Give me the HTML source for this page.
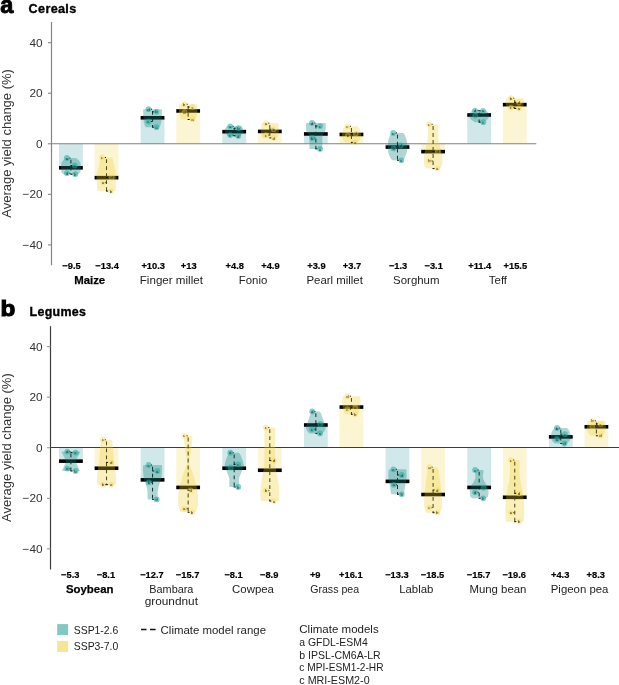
<!DOCTYPE html><html><head><meta charset="utf-8"><style>html,body{margin:0;padding:0;background:#fff;}svg{display:block;will-change:transform;}text{font-family:"Liberation Sans",sans-serif;}</style></head><body>
<svg width="619" height="685" viewBox="0 0 619 685">
<text x="0.2" y="13.1" font-size="23.5" font-weight="bold" fill="#000" stroke="#000" stroke-width="0.9">a</text>
<text x="28.6" y="13.2" font-size="12.6" font-weight="bold" fill="#000" stroke="#000" stroke-width="0.35" letter-spacing="0.35">Cereals</text>
<text transform="translate(0.4,315.6) scale(1.06,1)" font-size="22.9" font-weight="bold" fill="#000" stroke="#000" stroke-width="1.1">b</text>
<text x="29.6" y="315.9" font-size="12.4" font-weight="bold" fill="#000" stroke="#000" stroke-width="0.35" letter-spacing="0.3">Legumes</text>
<line x1="51.5" y1="22.0" x2="51.5" y2="265.3" stroke="#858585" stroke-width="1.2"/>
<line x1="47.9" y1="42.68" x2="51.5" y2="42.68" stroke="#888" stroke-width="1.1"/>
<text x="42.6" y="46.78" font-size="11.8" fill="#333" text-anchor="end">40</text>
<line x1="47.9" y1="93.24" x2="51.5" y2="93.24" stroke="#888" stroke-width="1.1"/>
<text x="42.6" y="97.34" font-size="11.8" fill="#333" text-anchor="end">20</text>
<line x1="47.9" y1="143.80" x2="51.5" y2="143.80" stroke="#888" stroke-width="1.1"/>
<text x="42.6" y="147.90" font-size="11.8" fill="#333" text-anchor="end">0</text>
<line x1="47.9" y1="194.36" x2="51.5" y2="194.36" stroke="#888" stroke-width="1.1"/>
<text x="42.6" y="198.46" font-size="11.8" fill="#333" text-anchor="end">−20</text>
<line x1="47.9" y1="244.92" x2="51.5" y2="244.92" stroke="#888" stroke-width="1.1"/>
<text x="42.6" y="249.02" font-size="11.8" fill="#333" text-anchor="end">−40</text>
<text transform="translate(11.2,143.4) rotate(-90)" font-size="13" fill="#333" text-anchor="middle">Average yield change (%)</text>
<line x1="50.5" y1="326.2" x2="50.5" y2="569.5" stroke="#3c3c3c" stroke-width="1.2"/>
<line x1="46.9" y1="346.63" x2="50.5" y2="346.63" stroke="#999" stroke-width="1.1"/>
<text x="42.6" y="350.73" font-size="11.8" fill="#333" text-anchor="end">40</text>
<line x1="46.9" y1="397.19" x2="50.5" y2="397.19" stroke="#999" stroke-width="1.1"/>
<text x="42.6" y="401.29" font-size="11.8" fill="#333" text-anchor="end">20</text>
<line x1="46.9" y1="447.75" x2="50.5" y2="447.75" stroke="#999" stroke-width="1.1"/>
<text x="42.6" y="451.85" font-size="11.8" fill="#333" text-anchor="end">0</text>
<line x1="46.9" y1="498.31" x2="50.5" y2="498.31" stroke="#999" stroke-width="1.1"/>
<text x="42.6" y="502.41" font-size="11.8" fill="#333" text-anchor="end">−20</text>
<line x1="46.9" y1="548.87" x2="50.5" y2="548.87" stroke="#999" stroke-width="1.1"/>
<text x="42.6" y="552.97" font-size="11.8" fill="#333" text-anchor="end">−40</text>
<text transform="translate(11.2,447.6) rotate(-90)" font-size="13" fill="#333" text-anchor="middle">Average yield change (%)</text>
<rect x="59.00" y="143.80" width="23.8" height="24.02" fill="#d0e8e9"/>
<rect x="94.60" y="143.80" width="23.8" height="33.88" fill="#fcf5d4"/>
<rect x="140.65" y="117.76" width="23.8" height="26.04" fill="#d0e8e9"/>
<rect x="176.25" y="110.94" width="23.8" height="32.86" fill="#fcf5d4"/>
<rect x="222.30" y="131.67" width="23.8" height="12.13" fill="#d0e8e9"/>
<rect x="257.90" y="131.41" width="23.8" height="12.39" fill="#fcf5d4"/>
<rect x="303.95" y="133.94" width="23.8" height="9.86" fill="#d0e8e9"/>
<rect x="339.55" y="134.45" width="23.8" height="9.35" fill="#fcf5d4"/>
<rect x="385.60" y="143.80" width="23.8" height="3.29" fill="#d0e8e9"/>
<rect x="421.20" y="143.80" width="23.8" height="7.84" fill="#fcf5d4"/>
<rect x="467.25" y="114.98" width="23.8" height="28.82" fill="#d0e8e9"/>
<rect x="502.85" y="104.62" width="23.8" height="39.18" fill="#fcf5d4"/>
<rect x="59.00" y="447.75" width="23.8" height="13.40" fill="#d0e8e9"/>
<rect x="94.60" y="447.75" width="23.8" height="20.48" fill="#fcf5d4"/>
<rect x="140.65" y="447.75" width="23.8" height="32.11" fill="#d0e8e9"/>
<rect x="176.25" y="447.75" width="23.8" height="39.69" fill="#fcf5d4"/>
<rect x="222.30" y="447.75" width="23.8" height="20.48" fill="#d0e8e9"/>
<rect x="257.90" y="447.75" width="23.8" height="22.50" fill="#fcf5d4"/>
<rect x="303.95" y="425.00" width="23.8" height="22.75" fill="#d0e8e9"/>
<rect x="339.55" y="407.05" width="23.8" height="40.70" fill="#fcf5d4"/>
<rect x="385.60" y="447.75" width="23.8" height="33.62" fill="#d0e8e9"/>
<rect x="421.20" y="447.75" width="23.8" height="46.77" fill="#fcf5d4"/>
<rect x="467.25" y="447.75" width="23.8" height="39.69" fill="#d0e8e9"/>
<rect x="502.85" y="447.75" width="23.8" height="49.55" fill="#fcf5d4"/>
<rect x="548.90" y="436.88" width="23.8" height="10.87" fill="#d0e8e9"/>
<rect x="584.50" y="426.77" width="23.8" height="20.98" fill="#fcf5d4"/>
<line x1="51.5" y1="143.75" x2="536.3" y2="143.75" stroke="#808080" stroke-width="1.2"/>
<line x1="50.5" y1="447.5" x2="619" y2="447.5" stroke="#3c3c3c" stroke-width="1.1"/>
<rect x="59.00" y="166.02" width="23.8" height="3.6" fill="#000"/>
<line x1="70.90" y1="159.80" x2="70.90" y2="174.20" stroke="#111" stroke-width="1.05" stroke-dasharray="3.8,3.2"/>
<path d="M66.10,158.00 L75.70,158.00 Q76.90,158.00 76.90,159.20 L78.20,159.62 L78.88,160.43 L79.50,161.24 L80.03,162.05 L80.40,162.86 L80.60,164.48 L80.66,166.10 L80.62,167.72 L80.53,169.34 L80.40,170.96 L80.30,172.58 L80.20,172.85 L79.40,173.00 Q79.40,174.20 78.20,174.20 L63.60,174.20 Q62.40,174.20 62.40,173.00 L61.60,172.85 L61.50,172.58 L61.40,170.96 L61.27,169.34 L61.18,167.72 L61.14,166.10 L61.20,164.48 L61.40,162.86 L61.78,162.05 L62.30,161.24 L62.93,160.43 L63.60,159.62 L64.90,159.20 Q64.90,158.00 66.10,158.00 Z" fill="rgba(20,135,130,0.34)"/>
<line x1="70.40" y1="158.00" x2="69.30" y2="158.00" stroke="#111" stroke-width="1"/>
<line x1="70.40" y1="165.50" x2="72.50" y2="165.50" stroke="#111" stroke-width="1"/>
<line x1="70.40" y1="173.20" x2="69.30" y2="173.20" stroke="#111" stroke-width="1"/>
<line x1="70.40" y1="174.20" x2="72.50" y2="174.20" stroke="#111" stroke-width="1"/>
<circle cx="66.90" cy="158.00" r="2.9" fill="rgba(30,170,160,0.55)"/>
<text x="66.90" y="159.60" font-size="4.4" fill="#2a2a2a" text-anchor="middle">a</text>
<circle cx="74.70" cy="165.50" r="2.9" fill="rgba(30,170,160,0.55)"/>
<text x="74.70" y="167.10" font-size="4.4" fill="#2a2a2a" text-anchor="middle">c</text>
<circle cx="66.90" cy="173.20" r="2.9" fill="rgba(30,170,160,0.55)"/>
<text x="66.90" y="174.80" font-size="4.4" fill="#2a2a2a" text-anchor="middle">d</text>
<circle cx="75.20" cy="174.20" r="2.9" fill="rgba(30,170,160,0.55)"/>
<text x="75.20" y="175.80" font-size="4.4" fill="#2a2a2a" text-anchor="middle">b</text>
<rect x="94.60" y="175.88" width="23.8" height="3.6" fill="#000"/>
<line x1="106.50" y1="159.30" x2="106.50" y2="191.10" stroke="#111" stroke-width="1.05" stroke-dasharray="3.8,3.2"/>
<path d="M101.70,157.50 L111.30,157.50 Q112.50,157.50 112.50,158.70 L112.74,158.90 L112.97,160.30 L113.20,161.70 L113.44,163.10 L113.70,164.50 L114.00,165.90 L114.36,167.30 L114.79,168.70 L115.24,170.10 L115.67,171.50 L116.04,172.90 L116.30,174.30 L116.44,175.70 L116.50,177.10 L116.49,178.50 L116.44,179.90 L116.37,181.30 L116.30,182.70 L116.21,184.10 L116.09,185.50 L115.95,186.90 L115.80,188.30 L115.64,189.70 L115.50,189.90 Q115.50,191.10 114.30,191.10 L98.70,191.10 Q97.50,191.10 97.50,189.90 L97.36,189.70 L97.20,188.30 L97.05,186.90 L96.91,185.50 L96.79,184.10 L96.70,182.70 L96.63,181.30 L96.56,179.90 L96.51,178.50 L96.50,177.10 L96.56,175.70 L96.70,174.30 L96.96,172.90 L97.33,171.50 L97.76,170.10 L98.21,168.70 L98.64,167.30 L99.00,165.90 L99.30,164.50 L99.56,163.10 L99.80,161.70 L100.03,160.30 L100.26,158.90 L100.50,158.70 Q100.50,157.50 101.70,157.50 Z" fill="rgba(240,205,40,0.30)"/>
<line x1="106.00" y1="157.50" x2="104.90" y2="157.50" stroke="#111" stroke-width="1"/>
<line x1="106.00" y1="177.50" x2="108.10" y2="177.50" stroke="#111" stroke-width="1"/>
<line x1="106.00" y1="182.60" x2="104.90" y2="182.60" stroke="#111" stroke-width="1"/>
<line x1="106.00" y1="191.10" x2="108.10" y2="191.10" stroke="#111" stroke-width="1"/>
<circle cx="102.10" cy="157.50" r="2.9" fill="rgba(245,215,70,0.40)"/>
<text x="102.10" y="159.10" font-size="4.4" fill="#2a2a2a" text-anchor="middle">c</text>
<circle cx="111.60" cy="177.50" r="2.9" fill="rgba(245,215,70,0.40)"/>
<text x="111.60" y="179.10" font-size="4.4" fill="#2a2a2a" text-anchor="middle">d</text>
<circle cx="103.10" cy="182.60" r="2.9" fill="rgba(245,215,70,0.40)"/>
<text x="103.10" y="184.20" font-size="4.4" fill="#2a2a2a" text-anchor="middle">a</text>
<circle cx="111.10" cy="191.10" r="2.9" fill="rgba(245,215,70,0.40)"/>
<text x="111.10" y="192.70" font-size="4.4" fill="#2a2a2a" text-anchor="middle">b</text>
<rect x="140.65" y="115.96" width="23.8" height="3.6" fill="#000"/>
<line x1="152.55" y1="111.00" x2="152.55" y2="127.20" stroke="#111" stroke-width="1.05" stroke-dasharray="3.8,3.2"/>
<path d="M144.25,109.20 L160.85,109.20 Q162.05,109.20 162.05,110.40 L161.98,111.00 L161.92,112.80 L161.86,114.60 L161.79,116.40 L161.69,118.20 L161.55,120.00 L161.36,121.20 L161.12,122.40 L160.86,123.60 L160.59,124.80 L160.05,126.00 Q160.05,127.20 158.85,127.20 L146.25,127.20 Q145.05,127.20 145.05,126.00 L144.51,124.80 L144.24,123.60 L143.98,122.40 L143.74,121.20 L143.55,120.00 L143.41,118.20 L143.31,116.40 L143.24,114.60 L143.18,112.80 L143.12,111.00 L143.05,110.40 Q143.05,109.20 144.25,109.20 Z" fill="rgba(20,135,130,0.34)"/>
<line x1="152.05" y1="109.20" x2="150.95" y2="109.20" stroke="#111" stroke-width="1"/>
<line x1="152.05" y1="111.80" x2="154.15" y2="111.80" stroke="#111" stroke-width="1"/>
<line x1="152.05" y1="121.50" x2="150.95" y2="121.50" stroke="#111" stroke-width="1"/>
<line x1="152.05" y1="127.20" x2="154.15" y2="127.20" stroke="#111" stroke-width="1"/>
<circle cx="148.45" cy="109.20" r="2.9" fill="rgba(30,170,160,0.55)"/>
<text x="148.45" y="110.80" font-size="4.4" fill="#2a2a2a" text-anchor="middle">d</text>
<circle cx="156.45" cy="111.80" r="2.9" fill="rgba(30,170,160,0.55)"/>
<text x="156.45" y="113.40" font-size="4.4" fill="#2a2a2a" text-anchor="middle">b</text>
<circle cx="148.45" cy="121.50" r="2.9" fill="rgba(30,170,160,0.55)"/>
<text x="148.45" y="123.10" font-size="4.4" fill="#2a2a2a" text-anchor="middle">c</text>
<circle cx="156.45" cy="127.20" r="2.9" fill="rgba(30,170,160,0.55)"/>
<text x="156.45" y="128.80" font-size="4.4" fill="#2a2a2a" text-anchor="middle">a</text>
<rect x="176.25" y="109.14" width="23.8" height="3.6" fill="#000"/>
<line x1="188.15" y1="106.00" x2="188.15" y2="119.50" stroke="#111" stroke-width="1.05" stroke-dasharray="3.8,3.2"/>
<path d="M179.95,104.20 L196.35,104.20 Q197.55,104.20 197.55,105.40 L197.50,105.73 L197.46,107.26 L197.42,108.79 L197.36,110.32 L197.28,111.85 L197.15,113.38 L196.96,114.40 L196.73,115.42 L196.47,116.44 L196.19,117.46 L195.65,118.30 Q195.65,119.50 194.45,119.50 L181.85,119.50 Q180.65,119.50 180.65,118.30 L180.11,117.46 L179.83,116.44 L179.57,115.42 L179.34,114.40 L179.15,113.38 L179.02,111.85 L178.94,110.32 L178.88,108.79 L178.84,107.26 L178.80,105.73 L178.75,105.40 Q178.75,104.20 179.95,104.20 Z" fill="rgba(240,205,40,0.30)"/>
<line x1="187.65" y1="104.20" x2="186.55" y2="104.20" stroke="#111" stroke-width="1"/>
<line x1="187.65" y1="107.00" x2="189.75" y2="107.00" stroke="#111" stroke-width="1"/>
<line x1="187.65" y1="112.20" x2="186.55" y2="112.20" stroke="#111" stroke-width="1"/>
<line x1="187.65" y1="119.50" x2="189.75" y2="119.50" stroke="#111" stroke-width="1"/>
<circle cx="184.05" cy="104.20" r="2.9" fill="rgba(245,215,70,0.40)"/>
<text x="184.05" y="105.80" font-size="4.4" fill="#2a2a2a" text-anchor="middle">b</text>
<circle cx="192.55" cy="107.00" r="2.9" fill="rgba(245,215,70,0.40)"/>
<text x="192.55" y="108.60" font-size="4.4" fill="#2a2a2a" text-anchor="middle">c</text>
<circle cx="184.55" cy="112.20" r="2.9" fill="rgba(245,215,70,0.40)"/>
<text x="184.55" y="113.80" font-size="4.4" fill="#2a2a2a" text-anchor="middle">d</text>
<circle cx="192.55" cy="119.50" r="2.9" fill="rgba(245,215,70,0.40)"/>
<text x="192.55" y="121.10" font-size="4.4" fill="#2a2a2a" text-anchor="middle">a</text>
<rect x="222.30" y="129.87" width="23.8" height="3.6" fill="#000"/>
<line x1="234.20" y1="128.10" x2="234.20" y2="135.90" stroke="#111" stroke-width="1.05" stroke-dasharray="3.8,3.2"/>
<path d="M227.40,126.30 L241.00,126.30 Q242.20,126.30 242.20,127.50 L242.85,127.90 L243.20,128.70 L243.50,129.50 L243.68,130.30 L243.70,131.10 L243.51,131.90 L243.16,132.70 L242.70,133.50 L242.18,134.30 L241.20,134.70 Q241.20,135.90 240.00,135.90 L228.40,135.90 Q227.20,135.90 227.20,134.70 L226.22,134.30 L225.70,133.50 L225.24,132.70 L224.89,131.90 L224.70,131.10 L224.72,130.30 L224.90,129.50 L225.20,128.70 L225.55,127.90 L226.20,127.50 Q226.20,126.30 227.40,126.30 Z" fill="rgba(20,135,130,0.34)"/>
<line x1="233.70" y1="126.30" x2="232.60" y2="126.30" stroke="#111" stroke-width="1"/>
<line x1="233.70" y1="128.20" x2="235.80" y2="128.20" stroke="#111" stroke-width="1"/>
<line x1="233.70" y1="135.10" x2="232.60" y2="135.10" stroke="#111" stroke-width="1"/>
<line x1="233.70" y1="135.90" x2="235.80" y2="135.90" stroke="#111" stroke-width="1"/>
<circle cx="230.20" cy="126.30" r="2.9" fill="rgba(30,170,160,0.55)"/>
<text x="230.20" y="127.90" font-size="4.4" fill="#2a2a2a" text-anchor="middle">a</text>
<circle cx="238.50" cy="128.20" r="2.9" fill="rgba(30,170,160,0.55)"/>
<text x="238.50" y="129.80" font-size="4.4" fill="#2a2a2a" text-anchor="middle">b</text>
<circle cx="230.20" cy="135.10" r="2.9" fill="rgba(30,170,160,0.55)"/>
<text x="230.20" y="136.70" font-size="4.4" fill="#2a2a2a" text-anchor="middle">c</text>
<circle cx="238.30" cy="135.90" r="2.9" fill="rgba(30,170,160,0.55)"/>
<text x="238.30" y="137.50" font-size="4.4" fill="#2a2a2a" text-anchor="middle">d</text>
<rect x="257.90" y="129.61" width="23.8" height="3.6" fill="#000"/>
<line x1="269.80" y1="125.00" x2="269.80" y2="137.90" stroke="#111" stroke-width="1.05" stroke-dasharray="3.8,3.2"/>
<path d="M262.30,123.20 L277.30,123.20 Q278.50,123.20 278.50,124.40 L278.57,124.43 L278.65,125.65 L278.73,126.88 L278.80,128.10 L278.83,129.33 L278.80,130.55 L278.71,131.78 L278.56,133.00 L278.38,134.23 L278.18,135.45 L277.98,136.68 L277.80,136.70 Q277.80,137.90 276.60,137.90 L263.00,137.90 Q261.80,137.90 261.80,136.70 L261.62,136.68 L261.42,135.45 L261.22,134.23 L261.04,133.00 L260.89,131.78 L260.80,130.55 L260.77,129.33 L260.80,128.10 L260.87,126.88 L260.95,125.65 L261.03,124.43 L261.10,124.40 Q261.10,123.20 262.30,123.20 Z" fill="rgba(240,205,40,0.30)"/>
<line x1="269.30" y1="123.20" x2="268.20" y2="123.20" stroke="#111" stroke-width="1"/>
<line x1="269.30" y1="129.20" x2="271.40" y2="129.20" stroke="#111" stroke-width="1"/>
<line x1="269.30" y1="135.10" x2="268.20" y2="135.10" stroke="#111" stroke-width="1"/>
<line x1="269.30" y1="137.90" x2="271.40" y2="137.90" stroke="#111" stroke-width="1"/>
<circle cx="265.90" cy="123.20" r="2.9" fill="rgba(245,215,70,0.40)"/>
<text x="265.90" y="124.80" font-size="4.4" fill="#2a2a2a" text-anchor="middle">a</text>
<circle cx="273.70" cy="129.20" r="2.9" fill="rgba(245,215,70,0.40)"/>
<text x="273.70" y="130.80" font-size="4.4" fill="#2a2a2a" text-anchor="middle">b</text>
<circle cx="265.90" cy="135.10" r="2.9" fill="rgba(245,215,70,0.40)"/>
<text x="265.90" y="136.70" font-size="4.4" fill="#2a2a2a" text-anchor="middle">c</text>
<circle cx="273.70" cy="137.90" r="2.9" fill="rgba(245,215,70,0.40)"/>
<text x="273.70" y="139.50" font-size="4.4" fill="#2a2a2a" text-anchor="middle">d</text>
<rect x="303.95" y="132.14" width="23.8" height="3.6" fill="#000"/>
<line x1="315.85" y1="124.80" x2="315.85" y2="148.90" stroke="#111" stroke-width="1.05" stroke-dasharray="3.8,3.2"/>
<path d="M307.05,123.00 L324.65,123.00 Q325.85,123.00 325.85,124.20 L325.79,124.30 L325.77,125.59 L325.74,126.89 L325.69,128.18 L325.57,129.48 L325.35,130.77 L324.99,131.63 L324.49,132.50 L323.93,133.36 L323.38,134.22 L322.89,135.09 L322.55,135.95 L322.37,138.11 L322.29,140.27 L322.29,142.43 L322.32,144.58 L322.35,146.74 L322.35,147.70 Q322.35,148.90 321.15,148.90 L310.55,148.90 Q309.35,148.90 309.35,147.70 L309.35,146.74 L309.38,144.58 L309.41,142.43 L309.41,140.27 L309.33,138.11 L309.15,135.95 L308.81,135.09 L308.32,134.22 L307.77,133.36 L307.21,132.50 L306.71,131.63 L306.35,130.77 L306.13,129.48 L306.01,128.18 L305.96,126.89 L305.93,125.59 L305.91,124.30 L305.85,124.20 Q305.85,123.00 307.05,123.00 Z" fill="rgba(20,135,130,0.34)"/>
<line x1="315.35" y1="123.00" x2="314.25" y2="123.00" stroke="#111" stroke-width="1"/>
<line x1="315.35" y1="126.10" x2="317.45" y2="126.10" stroke="#111" stroke-width="1"/>
<line x1="315.35" y1="137.90" x2="314.25" y2="137.90" stroke="#111" stroke-width="1"/>
<line x1="315.35" y1="148.90" x2="317.45" y2="148.90" stroke="#111" stroke-width="1"/>
<circle cx="311.95" cy="123.00" r="2.9" fill="rgba(30,170,160,0.55)"/>
<text x="311.95" y="124.60" font-size="4.4" fill="#2a2a2a" text-anchor="middle">d</text>
<circle cx="320.05" cy="126.10" r="2.9" fill="rgba(30,170,160,0.55)"/>
<text x="320.05" y="127.70" font-size="4.4" fill="#2a2a2a" text-anchor="middle">c</text>
<circle cx="312.25" cy="137.90" r="2.9" fill="rgba(30,170,160,0.55)"/>
<text x="312.25" y="139.50" font-size="4.4" fill="#2a2a2a" text-anchor="middle">b</text>
<circle cx="320.05" cy="148.90" r="2.9" fill="rgba(30,170,160,0.55)"/>
<text x="320.05" y="150.50" font-size="4.4" fill="#2a2a2a" text-anchor="middle">a</text>
<rect x="339.55" y="132.65" width="23.8" height="3.6" fill="#000"/>
<line x1="351.45" y1="128.10" x2="351.45" y2="142.40" stroke="#111" stroke-width="1.05" stroke-dasharray="3.8,3.2"/>
<path d="M345.65,126.30 L357.25,126.30 Q358.45,126.30 358.45,127.50 L359.30,128.18 L359.74,129.12 L360.15,130.06 L360.50,131.00 L360.75,131.94 L360.91,132.87 L361.01,133.81 L361.04,134.75 L361.01,135.69 L360.91,136.63 L360.75,137.57 L360.50,138.38 L360.15,139.18 L359.74,139.99 L359.30,140.79 L358.45,141.20 Q358.45,142.40 357.25,142.40 L345.65,142.40 Q344.45,142.40 344.45,141.20 L343.60,140.79 L343.16,139.99 L342.75,139.18 L342.40,138.38 L342.15,137.57 L341.99,136.63 L341.89,135.69 L341.86,134.75 L341.89,133.81 L341.99,132.87 L342.15,131.94 L342.40,131.00 L342.75,130.06 L343.16,129.12 L343.60,128.18 L344.45,127.50 Q344.45,126.30 345.65,126.30 Z" fill="rgba(240,205,40,0.30)"/>
<line x1="350.95" y1="126.30" x2="349.85" y2="126.30" stroke="#111" stroke-width="1"/>
<line x1="350.95" y1="133.60" x2="353.05" y2="133.60" stroke="#111" stroke-width="1"/>
<line x1="350.95" y1="135.60" x2="349.85" y2="135.60" stroke="#111" stroke-width="1"/>
<line x1="350.95" y1="142.40" x2="353.05" y2="142.40" stroke="#111" stroke-width="1"/>
<circle cx="347.45" cy="126.30" r="2.9" fill="rgba(245,215,70,0.40)"/>
<text x="347.45" y="127.90" font-size="4.4" fill="#2a2a2a" text-anchor="middle">c</text>
<circle cx="355.75" cy="133.60" r="2.9" fill="rgba(245,215,70,0.40)"/>
<text x="355.75" y="135.20" font-size="4.4" fill="#2a2a2a" text-anchor="middle">d</text>
<circle cx="347.95" cy="135.60" r="2.9" fill="rgba(245,215,70,0.40)"/>
<text x="347.95" y="137.20" font-size="4.4" fill="#2a2a2a" text-anchor="middle">b</text>
<circle cx="355.25" cy="142.40" r="2.9" fill="rgba(245,215,70,0.40)"/>
<text x="355.25" y="144.00" font-size="4.4" fill="#2a2a2a" text-anchor="middle">a</text>
<rect x="385.60" y="145.29" width="23.8" height="3.6" fill="#000"/>
<line x1="397.50" y1="134.70" x2="397.50" y2="160.30" stroke="#111" stroke-width="1.05" stroke-dasharray="3.8,3.2"/>
<path d="M392.20,132.90 L402.80,132.90 Q404.00,132.90 404.00,134.10 L404.50,134.27 L405.04,135.64 L405.57,137.01 L406.07,138.38 L406.50,139.75 L406.80,141.12 L407.00,142.95 L407.13,144.77 L407.18,146.60 L407.15,148.43 L407.02,150.25 L406.80,152.08 L406.44,153.45 L405.94,154.82 L405.36,156.19 L404.72,157.56 L404.09,158.93 L403.50,159.10 Q403.50,160.30 402.30,160.30 L392.70,160.30 Q391.50,160.30 391.50,159.10 L390.91,158.93 L390.28,157.56 L389.64,156.19 L389.06,154.82 L388.56,153.45 L388.20,152.08 L387.98,150.25 L387.85,148.43 L387.82,146.60 L387.87,144.77 L388.00,142.95 L388.20,141.12 L388.50,139.75 L388.93,138.38 L389.43,137.01 L389.96,135.64 L390.50,134.27 L391.00,134.10 Q391.00,132.90 392.20,132.90 Z" fill="rgba(20,135,130,0.34)"/>
<line x1="397.00" y1="132.90" x2="395.90" y2="132.90" stroke="#111" stroke-width="1"/>
<line x1="397.00" y1="145.30" x2="399.10" y2="145.30" stroke="#111" stroke-width="1"/>
<line x1="397.00" y1="148.40" x2="395.90" y2="148.40" stroke="#111" stroke-width="1"/>
<line x1="397.00" y1="160.30" x2="399.10" y2="160.30" stroke="#111" stroke-width="1"/>
<circle cx="393.20" cy="132.90" r="2.9" fill="rgba(30,170,160,0.55)"/>
<text x="393.20" y="134.50" font-size="4.4" fill="#2a2a2a" text-anchor="middle">c</text>
<circle cx="401.00" cy="145.30" r="2.9" fill="rgba(30,170,160,0.55)"/>
<text x="401.00" y="146.90" font-size="4.4" fill="#2a2a2a" text-anchor="middle">d</text>
<circle cx="393.70" cy="148.40" r="2.9" fill="rgba(30,170,160,0.55)"/>
<text x="393.70" y="150.00" font-size="4.4" fill="#2a2a2a" text-anchor="middle">b</text>
<circle cx="401.30" cy="160.30" r="2.9" fill="rgba(30,170,160,0.55)"/>
<text x="401.30" y="161.90" font-size="4.4" fill="#2a2a2a" text-anchor="middle">a</text>
<rect x="421.20" y="149.84" width="23.8" height="3.6" fill="#000"/>
<line x1="433.10" y1="126.10" x2="433.10" y2="168.60" stroke="#111" stroke-width="1.05" stroke-dasharray="3.8,3.2"/>
<path d="M429.30,124.30 L436.90,124.30 Q438.10,124.30 438.10,125.50 L438.15,126.88 L438.16,129.47 L438.16,132.05 L438.21,134.64 L438.34,137.22 L438.60,139.81 L439.05,142.39 L439.67,144.97 L440.38,147.56 L441.08,150.14 L441.68,152.73 L442.10,155.31 L442.32,156.79 L442.41,158.26 L442.41,159.74 L442.34,161.22 L442.23,162.69 L442.10,164.17 L441.94,164.91 L441.71,165.65 L441.44,166.38 L441.16,167.12 L440.60,167.40 Q440.60,168.60 439.40,168.60 L426.80,168.60 Q425.60,168.60 425.60,167.40 L425.04,167.12 L424.76,166.38 L424.49,165.65 L424.26,164.91 L424.10,164.17 L423.97,162.69 L423.86,161.22 L423.79,159.74 L423.79,158.26 L423.88,156.79 L424.10,155.31 L424.52,152.73 L425.12,150.14 L425.82,147.56 L426.53,144.97 L427.15,142.39 L427.60,139.81 L427.86,137.22 L427.99,134.64 L428.04,132.05 L428.04,129.47 L428.05,126.88 L428.10,125.50 Q428.10,124.30 429.30,124.30 Z" fill="rgba(240,205,40,0.30)"/>
<line x1="432.60" y1="124.30" x2="431.50" y2="124.30" stroke="#111" stroke-width="1"/>
<line x1="432.60" y1="151.50" x2="434.70" y2="151.50" stroke="#111" stroke-width="1"/>
<line x1="432.60" y1="160.80" x2="431.50" y2="160.80" stroke="#111" stroke-width="1"/>
<line x1="432.60" y1="168.60" x2="434.70" y2="168.60" stroke="#111" stroke-width="1"/>
<circle cx="428.90" cy="124.30" r="2.9" fill="rgba(245,215,70,0.40)"/>
<text x="428.90" y="125.90" font-size="4.4" fill="#2a2a2a" text-anchor="middle">c</text>
<circle cx="437.70" cy="151.50" r="2.9" fill="rgba(245,215,70,0.40)"/>
<text x="437.70" y="153.10" font-size="4.4" fill="#2a2a2a" text-anchor="middle">d</text>
<circle cx="429.40" cy="160.80" r="2.9" fill="rgba(245,215,70,0.40)"/>
<text x="429.40" y="162.40" font-size="4.4" fill="#2a2a2a" text-anchor="middle">b</text>
<circle cx="437.20" cy="168.60" r="2.9" fill="rgba(245,215,70,0.40)"/>
<text x="437.20" y="170.20" font-size="4.4" fill="#2a2a2a" text-anchor="middle">a</text>
<rect x="467.25" y="113.18" width="23.8" height="3.6" fill="#000"/>
<line x1="479.15" y1="112.40" x2="479.15" y2="122.20" stroke="#111" stroke-width="1.05" stroke-dasharray="3.8,3.2"/>
<path d="M472.35,110.60 L485.95,110.60 Q487.15,110.60 487.15,111.80 L487.99,112.34 L488.26,112.92 L488.49,113.50 L488.65,114.08 L488.78,114.66 L488.91,115.24 L488.99,115.82 L489.00,116.40 L488.90,116.98 L488.65,117.56 L488.21,118.33 L487.61,119.11 L486.90,119.88 L486.13,120.65 L484.65,121.00 Q484.65,122.20 483.45,122.20 L474.85,122.20 Q473.65,122.20 473.65,121.00 L472.17,120.65 L471.40,119.88 L470.69,119.11 L470.09,118.33 L469.65,117.56 L469.40,116.98 L469.30,116.40 L469.31,115.82 L469.39,115.24 L469.52,114.66 L469.65,114.08 L469.81,113.50 L470.04,112.92 L470.31,112.34 L471.15,111.80 Q471.15,110.60 472.35,110.60 Z" fill="rgba(20,135,130,0.34)"/>
<line x1="478.65" y1="110.60" x2="477.55" y2="110.60" stroke="#111" stroke-width="1"/>
<line x1="478.65" y1="110.80" x2="480.75" y2="110.80" stroke="#111" stroke-width="1"/>
<line x1="478.65" y1="115.60" x2="477.55" y2="115.60" stroke="#111" stroke-width="1"/>
<line x1="478.65" y1="122.20" x2="480.75" y2="122.20" stroke="#111" stroke-width="1"/>
<circle cx="475.00" cy="110.60" r="2.9" fill="rgba(30,170,160,0.55)"/>
<text x="475.00" y="112.20" font-size="4.4" fill="#2a2a2a" text-anchor="middle">d</text>
<circle cx="483.00" cy="110.80" r="2.9" fill="rgba(30,170,160,0.55)"/>
<text x="483.00" y="112.40" font-size="4.4" fill="#2a2a2a" text-anchor="middle">a</text>
<circle cx="475.40" cy="115.60" r="2.9" fill="rgba(30,170,160,0.55)"/>
<text x="475.40" y="117.20" font-size="4.4" fill="#2a2a2a" text-anchor="middle">b</text>
<circle cx="483.30" cy="122.20" r="2.9" fill="rgba(30,170,160,0.55)"/>
<text x="483.30" y="123.80" font-size="4.4" fill="#2a2a2a" text-anchor="middle">c</text>
<rect x="502.85" y="102.82" width="23.8" height="3.6" fill="#000"/>
<line x1="514.75" y1="100.00" x2="514.75" y2="108.50" stroke="#111" stroke-width="1.05" stroke-dasharray="3.8,3.2"/>
<path d="M506.95,98.20 L522.55,98.20 Q523.75,98.20 523.75,99.40 L523.82,100.26 L523.88,101.29 L523.90,102.32 L523.87,103.35 L523.75,104.38 L523.53,105.07 L523.23,105.75 L522.88,106.44 L522.49,107.13 L521.75,107.30 Q521.75,108.50 520.55,108.50 L508.95,108.50 Q507.75,108.50 507.75,107.30 L507.01,107.13 L506.62,106.44 L506.27,105.75 L505.97,105.07 L505.75,104.38 L505.63,103.35 L505.60,102.32 L505.62,101.29 L505.68,100.26 L505.75,99.40 Q505.75,98.20 506.95,98.20 Z" fill="rgba(240,205,40,0.30)"/>
<line x1="514.25" y1="98.20" x2="513.15" y2="98.20" stroke="#111" stroke-width="1"/>
<line x1="514.25" y1="102.30" x2="516.35" y2="102.30" stroke="#111" stroke-width="1"/>
<line x1="514.25" y1="107.70" x2="513.15" y2="107.70" stroke="#111" stroke-width="1"/>
<line x1="514.25" y1="108.50" x2="516.35" y2="108.50" stroke="#111" stroke-width="1"/>
<circle cx="510.90" cy="98.20" r="2.9" fill="rgba(245,215,70,0.40)"/>
<text x="510.90" y="99.80" font-size="4.4" fill="#2a2a2a" text-anchor="middle">b</text>
<circle cx="518.90" cy="102.30" r="2.9" fill="rgba(245,215,70,0.40)"/>
<text x="518.90" y="103.90" font-size="4.4" fill="#2a2a2a" text-anchor="middle">d</text>
<circle cx="510.90" cy="107.70" r="2.9" fill="rgba(245,215,70,0.40)"/>
<text x="510.90" y="109.30" font-size="4.4" fill="#2a2a2a" text-anchor="middle">c</text>
<circle cx="518.90" cy="108.50" r="2.9" fill="rgba(245,215,70,0.40)"/>
<text x="518.90" y="110.10" font-size="4.4" fill="#2a2a2a" text-anchor="middle">a</text>
<rect x="59.00" y="459.35" width="23.8" height="3.6" fill="#000"/>
<line x1="70.90" y1="453.40" x2="70.90" y2="471.00" stroke="#111" stroke-width="1.05" stroke-dasharray="3.8,3.2"/>
<path d="M62.60,451.60 L79.20,451.60 Q80.40,451.60 80.40,452.80 L79.69,453.06 L78.92,454.51 L78.15,455.97 L77.44,457.42 L76.84,458.88 L76.40,460.33 L76.13,460.65 L75.97,460.98 L75.93,461.30 L75.99,461.62 L76.15,461.95 L76.40,462.27 L76.78,463.72 L77.31,465.18 L77.93,466.63 L78.60,468.09 L79.28,469.55 L79.90,469.80 Q79.90,471.00 78.70,471.00 L63.10,471.00 Q61.90,471.00 61.90,469.80 L62.52,469.55 L63.20,468.09 L63.87,466.63 L64.49,465.18 L65.02,463.72 L65.40,462.27 L65.65,461.95 L65.81,461.62 L65.87,461.30 L65.83,460.98 L65.67,460.65 L65.40,460.33 L64.96,458.88 L64.36,457.42 L63.65,455.97 L62.88,454.51 L62.11,453.06 L61.40,452.80 Q61.40,451.60 62.60,451.60 Z" fill="rgba(20,135,130,0.34)"/>
<line x1="70.40" y1="451.60" x2="69.30" y2="451.60" stroke="#111" stroke-width="1"/>
<line x1="70.40" y1="452.60" x2="72.50" y2="452.60" stroke="#111" stroke-width="1"/>
<line x1="70.40" y1="468.60" x2="69.30" y2="468.60" stroke="#111" stroke-width="1"/>
<line x1="70.40" y1="471.00" x2="72.50" y2="471.00" stroke="#111" stroke-width="1"/>
<circle cx="67.30" cy="451.60" r="2.9" fill="rgba(30,170,160,0.55)"/>
<text x="67.30" y="453.20" font-size="4.4" fill="#2a2a2a" text-anchor="middle">d</text>
<circle cx="75.60" cy="452.60" r="2.9" fill="rgba(30,170,160,0.55)"/>
<text x="75.60" y="454.20" font-size="4.4" fill="#2a2a2a" text-anchor="middle">c</text>
<circle cx="67.30" cy="468.60" r="2.9" fill="rgba(30,170,160,0.55)"/>
<text x="67.30" y="470.20" font-size="4.4" fill="#2a2a2a" text-anchor="middle">a</text>
<circle cx="75.60" cy="471.00" r="2.9" fill="rgba(30,170,160,0.55)"/>
<text x="75.60" y="472.60" font-size="4.4" fill="#2a2a2a" text-anchor="middle">b</text>
<rect x="94.60" y="466.43" width="23.8" height="3.6" fill="#000"/>
<line x1="106.50" y1="441.50" x2="106.50" y2="484.70" stroke="#111" stroke-width="1.05" stroke-dasharray="3.8,3.2"/>
<path d="M102.00,439.70 L111.00,439.70 Q112.20,439.70 112.20,440.90 L112.50,443.45 L112.79,447.20 L113.09,450.95 L113.39,454.70 L113.69,458.45 L114.00,462.20 L114.35,464.82 L114.73,467.45 L115.12,470.07 L115.49,472.70 L115.79,475.32 L116.00,477.95 L116.09,479.07 L116.10,480.20 L116.04,481.32 L115.95,482.45 L115.80,483.50 Q115.80,484.70 114.60,484.70 L98.40,484.70 Q97.20,484.70 97.20,483.50 L97.05,482.45 L96.96,481.32 L96.90,480.20 L96.91,479.07 L97.00,477.95 L97.21,475.32 L97.51,472.70 L97.88,470.07 L98.27,467.45 L98.65,464.82 L99.00,462.20 L99.31,458.45 L99.61,454.70 L99.91,450.95 L100.21,447.20 L100.50,443.45 L100.80,440.90 Q100.80,439.70 102.00,439.70 Z" fill="rgba(240,205,40,0.30)"/>
<line x1="106.00" y1="439.70" x2="104.90" y2="439.70" stroke="#111" stroke-width="1"/>
<line x1="106.00" y1="462.40" x2="108.10" y2="462.40" stroke="#111" stroke-width="1"/>
<line x1="106.00" y1="484.70" x2="104.90" y2="484.70" stroke="#111" stroke-width="1"/>
<line x1="106.00" y1="484.70" x2="108.10" y2="484.70" stroke="#111" stroke-width="1"/>
<circle cx="103.00" cy="439.70" r="2.9" fill="rgba(245,215,70,0.40)"/>
<text x="103.00" y="441.30" font-size="4.4" fill="#2a2a2a" text-anchor="middle">c</text>
<circle cx="111.30" cy="462.40" r="2.9" fill="rgba(245,215,70,0.40)"/>
<text x="111.30" y="464.00" font-size="4.4" fill="#2a2a2a" text-anchor="middle">d</text>
<circle cx="103.00" cy="484.70" r="2.9" fill="rgba(245,215,70,0.40)"/>
<text x="103.00" y="486.30" font-size="4.4" fill="#2a2a2a" text-anchor="middle">b</text>
<circle cx="111.30" cy="484.70" r="2.9" fill="rgba(245,215,70,0.40)"/>
<text x="111.30" y="486.30" font-size="4.4" fill="#2a2a2a" text-anchor="middle">a</text>
<rect x="140.65" y="478.06" width="23.8" height="3.6" fill="#000"/>
<line x1="152.55" y1="466.80" x2="152.55" y2="499.40" stroke="#111" stroke-width="1.05" stroke-dasharray="3.8,3.2"/>
<path d="M144.15,465.00 L160.95,465.00 Q162.15,465.00 162.15,466.20 L162.08,467.01 L162.06,469.01 L162.03,471.02 L161.96,473.03 L161.82,475.03 L161.55,477.04 L161.10,479.05 L160.49,481.05 L159.79,483.06 L159.10,485.07 L158.49,487.07 L158.05,489.08 L157.79,490.80 L157.66,492.52 L157.61,494.24 L157.61,495.96 L157.60,497.68 L157.55,498.20 Q157.55,499.40 156.35,499.40 L148.75,499.40 Q147.55,499.40 147.55,498.20 L147.50,497.68 L147.49,495.96 L147.49,494.24 L147.44,492.52 L147.31,490.80 L147.05,489.08 L146.61,487.07 L146.00,485.07 L145.31,483.06 L144.61,481.05 L144.00,479.05 L143.55,477.04 L143.28,475.03 L143.14,473.03 L143.07,471.02 L143.04,469.01 L143.02,467.01 L142.95,466.20 Q142.95,465.00 144.15,465.00 Z" fill="rgba(20,135,130,0.34)"/>
<line x1="152.05" y1="465.00" x2="150.95" y2="465.00" stroke="#111" stroke-width="1"/>
<line x1="152.05" y1="470.90" x2="154.15" y2="470.90" stroke="#111" stroke-width="1"/>
<line x1="152.05" y1="482.40" x2="150.95" y2="482.40" stroke="#111" stroke-width="1"/>
<line x1="152.05" y1="499.40" x2="154.15" y2="499.40" stroke="#111" stroke-width="1"/>
<circle cx="148.60" cy="465.00" r="2.9" fill="rgba(30,170,160,0.55)"/>
<text x="148.60" y="466.60" font-size="4.4" fill="#2a2a2a" text-anchor="middle">c</text>
<circle cx="157.30" cy="470.90" r="2.9" fill="rgba(30,170,160,0.55)"/>
<text x="157.30" y="472.50" font-size="4.4" fill="#2a2a2a" text-anchor="middle">a</text>
<circle cx="148.90" cy="482.40" r="2.9" fill="rgba(30,170,160,0.55)"/>
<text x="148.90" y="484.00" font-size="4.4" fill="#2a2a2a" text-anchor="middle">b</text>
<circle cx="156.60" cy="499.40" r="2.9" fill="rgba(30,170,160,0.55)"/>
<text x="156.60" y="501.00" font-size="4.4" fill="#2a2a2a" text-anchor="middle">d</text>
<rect x="176.25" y="485.64" width="23.8" height="3.6" fill="#000"/>
<line x1="188.15" y1="437.60" x2="188.15" y2="512.30" stroke="#111" stroke-width="1.05" stroke-dasharray="3.8,3.2"/>
<path d="M184.85,435.80 L191.45,435.80 Q192.65,435.80 192.65,437.00 L192.40,438.35 L192.16,440.90 L191.92,443.45 L191.67,446.00 L191.42,448.55 L191.15,451.10 L190.80,453.01 L190.36,454.93 L189.92,456.84 L189.55,458.75 L189.33,460.66 L189.35,462.57 L189.66,464.49 L190.19,466.40 L190.89,468.31 L191.66,470.22 L192.44,472.14 L193.15,474.05 L193.84,476.60 L194.58,479.15 L195.33,481.70 L196.03,484.25 L196.65,486.80 L197.15,489.35 L197.53,491.64 L197.82,493.94 L198.03,496.23 L198.15,498.53 L198.19,500.82 L198.15,503.12 L197.99,504.65 L197.71,506.18 L197.34,507.71 L196.93,509.24 L196.52,510.77 L196.15,511.10 Q196.15,512.30 194.95,512.30 L181.35,512.30 Q180.15,512.30 180.15,511.10 L179.78,510.77 L179.37,509.24 L178.96,507.71 L178.59,506.18 L178.31,504.65 L178.15,503.12 L178.11,500.82 L178.15,498.53 L178.28,496.23 L178.48,493.94 L178.78,491.64 L179.15,489.35 L179.65,486.80 L180.27,484.25 L180.97,481.70 L181.72,479.15 L182.46,476.60 L183.15,474.05 L183.86,472.14 L184.64,470.22 L185.41,468.31 L186.11,466.40 L186.64,464.49 L186.95,462.57 L186.97,460.66 L186.75,458.75 L186.38,456.84 L185.94,454.93 L185.50,453.01 L185.15,451.10 L184.88,448.55 L184.63,446.00 L184.38,443.45 L184.14,440.90 L183.90,438.35 L183.65,437.00 Q183.65,435.80 184.85,435.80 Z" fill="rgba(240,205,40,0.30)"/>
<line x1="187.65" y1="435.80" x2="186.55" y2="435.80" stroke="#111" stroke-width="1"/>
<line x1="187.65" y1="490.40" x2="189.75" y2="490.40" stroke="#111" stroke-width="1"/>
<line x1="187.65" y1="508.70" x2="186.55" y2="508.70" stroke="#111" stroke-width="1"/>
<line x1="187.65" y1="512.30" x2="189.75" y2="512.30" stroke="#111" stroke-width="1"/>
<circle cx="184.20" cy="435.80" r="2.9" fill="rgba(245,215,70,0.40)"/>
<text x="184.20" y="437.40" font-size="4.4" fill="#2a2a2a" text-anchor="middle">c</text>
<circle cx="190.70" cy="490.40" r="2.9" fill="rgba(245,215,70,0.40)"/>
<text x="190.70" y="492.00" font-size="4.4" fill="#2a2a2a" text-anchor="middle">d</text>
<circle cx="184.20" cy="508.70" r="2.9" fill="rgba(245,215,70,0.40)"/>
<text x="184.20" y="510.30" font-size="4.4" fill="#2a2a2a" text-anchor="middle">a</text>
<circle cx="192.00" cy="512.30" r="2.9" fill="rgba(245,215,70,0.40)"/>
<text x="192.00" y="513.90" font-size="4.4" fill="#2a2a2a" text-anchor="middle">b</text>
<rect x="222.30" y="466.43" width="23.8" height="3.6" fill="#000"/>
<line x1="234.20" y1="454.50" x2="234.20" y2="487.00" stroke="#111" stroke-width="1.05" stroke-dasharray="3.8,3.2"/>
<path d="M229.90,452.70 L238.50,452.70 Q239.70,452.70 239.70,453.90 L240.43,454.70 L241.24,456.70 L242.04,458.70 L242.77,460.70 L243.35,462.70 L243.70,464.70 L243.79,465.56 L243.66,466.42 L243.39,467.28 L243.01,468.13 L242.60,468.99 L242.20,469.85 L241.75,471.28 L241.20,472.71 L240.61,474.14 L240.03,475.57 L239.54,477.00 L239.20,478.43 L239.03,479.85 L238.98,481.28 L239.01,482.71 L239.09,484.14 L239.17,485.57 L239.20,485.80 Q239.20,487.00 238.00,487.00 L230.40,487.00 Q229.20,487.00 229.20,485.80 L229.23,485.57 L229.31,484.14 L229.39,482.71 L229.42,481.28 L229.37,479.85 L229.20,478.43 L228.86,477.00 L228.37,475.57 L227.79,474.14 L227.20,472.71 L226.65,471.28 L226.20,469.85 L225.80,468.99 L225.39,468.13 L225.01,467.28 L224.74,466.42 L224.61,465.56 L224.70,464.70 L225.05,462.70 L225.63,460.70 L226.36,458.70 L227.16,456.70 L227.97,454.70 L228.70,453.90 Q228.70,452.70 229.90,452.70 Z" fill="rgba(20,135,130,0.34)"/>
<line x1="233.70" y1="452.70" x2="232.60" y2="452.70" stroke="#111" stroke-width="1"/>
<line x1="233.70" y1="464.30" x2="235.80" y2="464.30" stroke="#111" stroke-width="1"/>
<line x1="233.70" y1="467.40" x2="232.60" y2="467.40" stroke="#111" stroke-width="1"/>
<line x1="233.70" y1="487.00" x2="235.80" y2="487.00" stroke="#111" stroke-width="1"/>
<circle cx="230.30" cy="452.70" r="2.9" fill="rgba(30,170,160,0.55)"/>
<text x="230.30" y="454.30" font-size="4.4" fill="#2a2a2a" text-anchor="middle">d</text>
<circle cx="238.30" cy="464.30" r="2.9" fill="rgba(30,170,160,0.55)"/>
<text x="238.30" y="465.90" font-size="4.4" fill="#2a2a2a" text-anchor="middle">c</text>
<circle cx="230.70" cy="467.40" r="2.9" fill="rgba(30,170,160,0.55)"/>
<text x="230.70" y="469.00" font-size="4.4" fill="#2a2a2a" text-anchor="middle">a</text>
<circle cx="238.30" cy="487.00" r="2.9" fill="rgba(30,170,160,0.55)"/>
<text x="238.30" y="488.60" font-size="4.4" fill="#2a2a2a" text-anchor="middle">b</text>
<rect x="257.90" y="468.45" width="23.8" height="3.6" fill="#000"/>
<line x1="269.80" y1="429.30" x2="269.80" y2="501.10" stroke="#111" stroke-width="1.05" stroke-dasharray="3.8,3.2"/>
<path d="M265.50,427.50 L274.10,427.50 Q275.30,427.50 275.30,428.70 L275.27,433.63 L275.19,439.77 L275.11,445.90 L275.08,452.03 L275.13,458.17 L275.30,464.30 L275.65,467.37 L276.15,470.43 L276.74,473.50 L277.34,476.57 L277.88,479.63 L278.30,482.70 L278.60,484.54 L278.84,486.38 L279.02,488.22 L279.15,490.06 L279.24,491.90 L279.30,493.74 L279.30,494.97 L279.24,496.19 L279.14,497.42 L279.02,498.65 L278.90,499.87 L278.80,499.90 Q278.80,501.10 277.60,501.10 L262.00,501.10 Q260.80,501.10 260.80,499.90 L260.70,499.87 L260.58,498.65 L260.46,497.42 L260.36,496.19 L260.30,494.97 L260.30,493.74 L260.36,491.90 L260.45,490.06 L260.58,488.22 L260.76,486.38 L261.00,484.54 L261.30,482.70 L261.72,479.63 L262.26,476.57 L262.86,473.50 L263.45,470.43 L263.95,467.37 L264.30,464.30 L264.47,458.17 L264.52,452.03 L264.49,445.90 L264.41,439.77 L264.33,433.63 L264.30,428.70 Q264.30,427.50 265.50,427.50 Z" fill="rgba(240,205,40,0.30)"/>
<line x1="269.30" y1="427.50" x2="268.20" y2="427.50" stroke="#111" stroke-width="1"/>
<line x1="269.30" y1="460.60" x2="271.40" y2="460.60" stroke="#111" stroke-width="1"/>
<line x1="269.30" y1="490.70" x2="268.20" y2="490.70" stroke="#111" stroke-width="1"/>
<line x1="269.30" y1="501.10" x2="271.40" y2="501.10" stroke="#111" stroke-width="1"/>
<circle cx="265.90" cy="427.50" r="2.9" fill="rgba(245,215,70,0.40)"/>
<text x="265.90" y="429.10" font-size="4.4" fill="#2a2a2a" text-anchor="middle">c</text>
<circle cx="273.90" cy="460.60" r="2.9" fill="rgba(245,215,70,0.40)"/>
<text x="273.90" y="462.20" font-size="4.4" fill="#2a2a2a" text-anchor="middle">d</text>
<circle cx="265.90" cy="490.70" r="2.9" fill="rgba(245,215,70,0.40)"/>
<text x="265.90" y="492.30" font-size="4.4" fill="#2a2a2a" text-anchor="middle">b</text>
<circle cx="273.90" cy="501.10" r="2.9" fill="rgba(245,215,70,0.40)"/>
<text x="273.90" y="502.70" font-size="4.4" fill="#2a2a2a" text-anchor="middle">a</text>
<rect x="303.95" y="423.20" width="23.8" height="3.6" fill="#000"/>
<line x1="315.85" y1="413.30" x2="315.85" y2="433.40" stroke="#111" stroke-width="1.05" stroke-dasharray="3.8,3.2"/>
<path d="M312.55,411.50 L319.15,411.50 Q320.35,411.50 320.35,412.70 L320.86,412.96 L321.38,414.42 L321.89,415.88 L322.40,417.34 L322.89,418.80 L323.35,420.26 L323.83,421.54 L324.34,422.81 L324.83,424.09 L325.25,425.37 L325.54,426.65 L325.65,427.92 L325.53,428.84 L325.22,429.75 L324.79,430.66 L324.29,431.57 L323.35,432.20 Q323.35,433.40 322.15,433.40 L309.55,433.40 Q308.35,433.40 308.35,432.20 L307.41,431.57 L306.91,430.66 L306.48,429.75 L306.17,428.84 L306.05,427.92 L306.16,426.65 L306.45,425.37 L306.87,424.09 L307.36,422.81 L307.87,421.54 L308.35,420.26 L308.81,418.80 L309.30,417.34 L309.81,415.88 L310.32,414.42 L310.84,412.96 L311.35,412.70 Q311.35,411.50 312.55,411.50 Z" fill="rgba(20,135,130,0.34)"/>
<line x1="315.35" y1="411.50" x2="314.25" y2="411.50" stroke="#111" stroke-width="1"/>
<line x1="315.35" y1="423.90" x2="317.45" y2="423.90" stroke="#111" stroke-width="1"/>
<line x1="315.35" y1="429.30" x2="314.25" y2="429.30" stroke="#111" stroke-width="1"/>
<line x1="315.35" y1="433.40" x2="317.45" y2="433.40" stroke="#111" stroke-width="1"/>
<circle cx="312.20" cy="411.50" r="2.9" fill="rgba(30,170,160,0.55)"/>
<text x="312.20" y="413.10" font-size="4.4" fill="#2a2a2a" text-anchor="middle">d</text>
<circle cx="320.30" cy="423.90" r="2.9" fill="rgba(30,170,160,0.55)"/>
<text x="320.30" y="425.50" font-size="4.4" fill="#2a2a2a" text-anchor="middle">b</text>
<circle cx="312.00" cy="429.30" r="2.9" fill="rgba(30,170,160,0.55)"/>
<text x="312.00" y="430.90" font-size="4.4" fill="#2a2a2a" text-anchor="middle">c</text>
<circle cx="320.00" cy="433.40" r="2.9" fill="rgba(30,170,160,0.55)"/>
<text x="320.00" y="435.00" font-size="4.4" fill="#2a2a2a" text-anchor="middle">a</text>
<rect x="339.55" y="405.25" width="23.8" height="3.6" fill="#000"/>
<line x1="351.45" y1="398.00" x2="351.45" y2="414.30" stroke="#111" stroke-width="1.05" stroke-dasharray="3.8,3.2"/>
<path d="M343.65,396.20 L359.25,396.20 Q360.45,396.20 360.45,397.40 L360.47,397.71 L360.52,399.22 L360.58,400.73 L360.60,402.23 L360.57,403.74 L360.45,405.25 L360.23,406.76 L359.93,408.27 L359.58,409.77 L359.19,411.28 L358.81,412.79 L358.45,413.10 Q358.45,414.30 357.25,414.30 L345.65,414.30 Q344.45,414.30 344.45,413.10 L344.09,412.79 L343.71,411.28 L343.33,409.77 L342.97,408.27 L342.67,406.76 L342.45,405.25 L342.33,403.74 L342.30,402.23 L342.33,400.73 L342.38,399.22 L342.43,397.71 L342.45,397.40 Q342.45,396.20 343.65,396.20 Z" fill="rgba(240,205,40,0.30)"/>
<line x1="350.95" y1="396.20" x2="349.85" y2="396.20" stroke="#111" stroke-width="1"/>
<line x1="350.95" y1="407.40" x2="353.05" y2="407.40" stroke="#111" stroke-width="1"/>
<line x1="350.95" y1="409.10" x2="349.85" y2="409.10" stroke="#111" stroke-width="1"/>
<line x1="350.95" y1="414.30" x2="353.05" y2="414.30" stroke="#111" stroke-width="1"/>
<circle cx="347.40" cy="396.20" r="2.9" fill="rgba(245,215,70,0.40)"/>
<text x="347.40" y="397.80" font-size="4.4" fill="#2a2a2a" text-anchor="middle">d</text>
<circle cx="355.20" cy="407.40" r="2.9" fill="rgba(245,215,70,0.40)"/>
<text x="355.20" y="409.00" font-size="4.4" fill="#2a2a2a" text-anchor="middle">a</text>
<circle cx="347.40" cy="409.10" r="2.9" fill="rgba(245,215,70,0.40)"/>
<text x="347.40" y="410.70" font-size="4.4" fill="#2a2a2a" text-anchor="middle">c</text>
<circle cx="355.20" cy="414.30" r="2.9" fill="rgba(245,215,70,0.40)"/>
<text x="355.20" y="415.90" font-size="4.4" fill="#2a2a2a" text-anchor="middle">b</text>
<rect x="385.60" y="479.57" width="23.8" height="3.6" fill="#000"/>
<line x1="397.50" y1="471.10" x2="397.50" y2="494.30" stroke="#111" stroke-width="1.05" stroke-dasharray="3.8,3.2"/>
<path d="M389.70,469.30 L405.30,469.30 Q406.50,469.30 406.50,470.50 L406.52,470.97 L406.56,472.63 L406.59,474.30 L406.61,475.97 L406.59,477.63 L406.50,479.30 L406.33,480.55 L406.09,481.80 L405.81,483.05 L405.52,484.30 L405.24,485.55 L405.00,486.80 L404.80,488.05 L404.63,489.30 L404.47,490.55 L404.31,491.80 L404.16,493.05 L404.00,493.10 Q404.00,494.30 402.80,494.30 L392.20,494.30 Q391.00,494.30 391.00,493.10 L390.84,493.05 L390.69,491.80 L390.53,490.55 L390.37,489.30 L390.20,488.05 L390.00,486.80 L389.76,485.55 L389.48,484.30 L389.19,483.05 L388.91,481.80 L388.67,480.55 L388.50,479.30 L388.41,477.63 L388.39,475.97 L388.41,474.30 L388.44,472.63 L388.48,470.97 L388.50,470.50 Q388.50,469.30 389.70,469.30 Z" fill="rgba(20,135,130,0.34)"/>
<line x1="397.00" y1="469.30" x2="395.90" y2="469.30" stroke="#111" stroke-width="1"/>
<line x1="397.00" y1="475.00" x2="399.10" y2="475.00" stroke="#111" stroke-width="1"/>
<line x1="397.00" y1="484.80" x2="395.90" y2="484.80" stroke="#111" stroke-width="1"/>
<line x1="397.00" y1="494.30" x2="399.10" y2="494.30" stroke="#111" stroke-width="1"/>
<circle cx="393.40" cy="469.30" r="2.9" fill="rgba(30,170,160,0.55)"/>
<text x="393.40" y="470.90" font-size="4.4" fill="#2a2a2a" text-anchor="middle">c</text>
<circle cx="401.70" cy="475.00" r="2.9" fill="rgba(30,170,160,0.55)"/>
<text x="401.70" y="476.60" font-size="4.4" fill="#2a2a2a" text-anchor="middle">d</text>
<circle cx="393.70" cy="484.80" r="2.9" fill="rgba(30,170,160,0.55)"/>
<text x="393.70" y="486.40" font-size="4.4" fill="#2a2a2a" text-anchor="middle">a</text>
<circle cx="401.70" cy="494.30" r="2.9" fill="rgba(30,170,160,0.55)"/>
<text x="401.70" y="495.90" font-size="4.4" fill="#2a2a2a" text-anchor="middle">b</text>
<rect x="421.20" y="492.72" width="23.8" height="3.6" fill="#000"/>
<line x1="433.10" y1="469.00" x2="433.10" y2="512.70" stroke="#111" stroke-width="1.05" stroke-dasharray="3.8,3.2"/>
<path d="M429.30,467.20 L436.90,467.20 Q438.10,467.20 438.10,468.40 L438.44,469.48 L438.79,471.75 L439.13,474.02 L439.47,476.30 L439.80,478.58 L440.10,480.85 L440.39,483.12 L440.67,485.40 L440.94,487.68 L441.19,489.95 L441.41,492.23 L441.60,494.50 L441.76,496.40 L441.91,498.29 L442.04,500.19 L442.12,502.08 L442.14,503.98 L442.10,505.88 L441.97,507.01 L441.75,508.15 L441.48,509.29 L441.17,510.43 L440.60,511.50 Q440.60,512.70 439.40,512.70 L426.80,512.70 Q425.60,512.70 425.60,511.50 L425.03,510.43 L424.73,509.29 L424.45,508.15 L424.23,507.01 L424.10,505.88 L424.06,503.98 L424.08,502.08 L424.16,500.19 L424.29,498.29 L424.44,496.40 L424.60,494.50 L424.79,492.23 L425.01,489.95 L425.26,487.68 L425.53,485.40 L425.81,483.12 L426.10,480.85 L426.40,478.58 L426.73,476.30 L427.07,474.02 L427.41,471.75 L427.76,469.48 L428.10,468.40 Q428.10,467.20 429.30,467.20 Z" fill="rgba(240,205,40,0.30)"/>
<line x1="432.60" y1="467.20" x2="431.50" y2="467.20" stroke="#111" stroke-width="1"/>
<line x1="432.60" y1="490.00" x2="434.70" y2="490.00" stroke="#111" stroke-width="1"/>
<line x1="432.60" y1="507.60" x2="431.50" y2="507.60" stroke="#111" stroke-width="1"/>
<line x1="432.60" y1="512.70" x2="434.70" y2="512.70" stroke="#111" stroke-width="1"/>
<circle cx="429.40" cy="467.20" r="2.9" fill="rgba(245,215,70,0.40)"/>
<text x="429.40" y="468.80" font-size="4.4" fill="#2a2a2a" text-anchor="middle">a</text>
<circle cx="437.20" cy="490.00" r="2.9" fill="rgba(245,215,70,0.40)"/>
<text x="437.20" y="491.60" font-size="4.4" fill="#2a2a2a" text-anchor="middle">d</text>
<circle cx="429.40" cy="507.60" r="2.9" fill="rgba(245,215,70,0.40)"/>
<text x="429.40" y="509.20" font-size="4.4" fill="#2a2a2a" text-anchor="middle">c</text>
<circle cx="437.20" cy="512.70" r="2.9" fill="rgba(245,215,70,0.40)"/>
<text x="437.20" y="514.30" font-size="4.4" fill="#2a2a2a" text-anchor="middle">b</text>
<rect x="467.25" y="485.64" width="23.8" height="3.6" fill="#000"/>
<line x1="479.15" y1="471.70" x2="479.15" y2="498.30" stroke="#111" stroke-width="1.05" stroke-dasharray="3.8,3.2"/>
<path d="M475.85,469.90 L482.45,469.90 Q483.65,469.90 483.65,471.10 L483.50,471.32 L483.28,472.74 L483.06,474.16 L482.91,475.58 L482.92,477.00 L483.15,478.42 L483.72,480.08 L484.59,481.73 L485.62,483.39 L486.65,485.05 L487.54,486.70 L488.15,488.36 L488.45,489.54 L488.56,490.73 L488.52,491.91 L488.41,493.09 L488.27,494.28 L488.15,495.46 L488.04,495.93 L487.89,496.41 L487.71,496.88 L487.15,497.10 Q487.15,498.30 485.95,498.30 L472.35,498.30 Q471.15,498.30 471.15,497.10 L470.59,496.88 L470.41,496.41 L470.26,495.93 L470.15,495.46 L470.03,494.28 L469.89,493.09 L469.77,491.91 L469.74,490.73 L469.85,489.54 L470.15,488.36 L470.76,486.70 L471.65,485.05 L472.68,483.39 L473.71,481.73 L474.58,480.08 L475.15,478.42 L475.38,477.00 L475.39,475.58 L475.24,474.16 L475.02,472.74 L474.80,471.32 L474.65,471.10 Q474.65,469.90 475.85,469.90 Z" fill="rgba(20,135,130,0.34)"/>
<line x1="478.65" y1="469.90" x2="477.55" y2="469.90" stroke="#111" stroke-width="1"/>
<line x1="478.65" y1="487.80" x2="480.75" y2="487.80" stroke="#111" stroke-width="1"/>
<line x1="478.65" y1="492.30" x2="477.55" y2="492.30" stroke="#111" stroke-width="1"/>
<line x1="478.65" y1="498.30" x2="480.75" y2="498.30" stroke="#111" stroke-width="1"/>
<circle cx="475.10" cy="469.90" r="2.9" fill="rgba(30,170,160,0.55)"/>
<text x="475.10" y="471.50" font-size="4.4" fill="#2a2a2a" text-anchor="middle">c</text>
<circle cx="483.60" cy="487.80" r="2.9" fill="rgba(30,170,160,0.55)"/>
<text x="483.60" y="489.40" font-size="4.4" fill="#2a2a2a" text-anchor="middle">a</text>
<circle cx="475.10" cy="492.30" r="2.9" fill="rgba(30,170,160,0.55)"/>
<text x="475.10" y="493.90" font-size="4.4" fill="#2a2a2a" text-anchor="middle">d</text>
<circle cx="483.20" cy="498.30" r="2.9" fill="rgba(30,170,160,0.55)"/>
<text x="483.20" y="499.90" font-size="4.4" fill="#2a2a2a" text-anchor="middle">b</text>
<rect x="502.85" y="495.50" width="23.8" height="3.6" fill="#000"/>
<line x1="514.75" y1="461.80" x2="514.75" y2="521.70" stroke="#111" stroke-width="1.05" stroke-dasharray="3.8,3.2"/>
<path d="M510.95,460.00 L518.55,460.00 Q519.75,460.00 519.75,461.20 L519.71,462.57 L519.62,465.14 L519.53,467.71 L519.49,470.28 L519.55,472.85 L519.75,475.43 L520.16,479.02 L520.75,482.62 L521.44,486.22 L522.14,489.82 L522.77,493.42 L523.25,497.02 L523.58,499.08 L523.82,501.13 L524.00,503.19 L524.12,505.25 L524.20,507.30 L524.25,509.36 L524.25,511.42 L524.19,513.47 L524.09,515.53 L523.97,517.59 L523.85,519.64 L523.75,520.50 Q523.75,521.70 522.55,521.70 L506.95,521.70 Q505.75,521.70 505.75,520.50 L505.65,519.64 L505.53,517.59 L505.41,515.53 L505.31,513.47 L505.25,511.42 L505.25,509.36 L505.30,507.30 L505.38,505.25 L505.50,503.19 L505.68,501.13 L505.92,499.08 L506.25,497.02 L506.73,493.42 L507.36,489.82 L508.06,486.22 L508.75,482.62 L509.34,479.02 L509.75,475.43 L509.95,472.85 L510.01,470.28 L509.97,467.71 L509.88,465.14 L509.79,462.57 L509.75,461.20 Q509.75,460.00 510.95,460.00 Z" fill="rgba(240,205,40,0.30)"/>
<line x1="514.25" y1="460.00" x2="513.15" y2="460.00" stroke="#111" stroke-width="1"/>
<line x1="514.25" y1="493.40" x2="516.35" y2="493.40" stroke="#111" stroke-width="1"/>
<line x1="514.25" y1="512.60" x2="513.15" y2="512.60" stroke="#111" stroke-width="1"/>
<line x1="514.25" y1="521.70" x2="516.35" y2="521.70" stroke="#111" stroke-width="1"/>
<circle cx="510.90" cy="460.00" r="2.9" fill="rgba(245,215,70,0.40)"/>
<text x="510.90" y="461.60" font-size="4.4" fill="#2a2a2a" text-anchor="middle">c</text>
<circle cx="519.00" cy="493.40" r="2.9" fill="rgba(245,215,70,0.40)"/>
<text x="519.00" y="495.00" font-size="4.4" fill="#2a2a2a" text-anchor="middle">d</text>
<circle cx="510.90" cy="512.60" r="2.9" fill="rgba(245,215,70,0.40)"/>
<text x="510.90" y="514.20" font-size="4.4" fill="#2a2a2a" text-anchor="middle">a</text>
<circle cx="519.00" cy="521.70" r="2.9" fill="rgba(245,215,70,0.40)"/>
<text x="519.00" y="523.30" font-size="4.4" fill="#2a2a2a" text-anchor="middle">b</text>
<rect x="548.90" y="435.08" width="23.8" height="3.6" fill="#000"/>
<line x1="560.80" y1="429.80" x2="560.80" y2="443.50" stroke="#111" stroke-width="1.05" stroke-dasharray="3.8,3.2"/>
<path d="M555.00,428.00 L566.60,428.00 Q567.80,428.00 567.80,429.20 L568.73,429.81 L569.21,430.71 L569.65,431.62 L570.03,432.52 L570.30,433.43 L570.47,434.33 L570.58,435.23 L570.61,436.14 L570.58,437.04 L570.47,437.95 L570.30,438.85 L570.03,439.62 L569.65,440.40 L569.21,441.18 L568.73,441.95 L567.80,442.30 Q567.80,443.50 566.60,443.50 L555.00,443.50 Q553.80,443.50 553.80,442.30 L552.87,441.95 L552.39,441.18 L551.95,440.40 L551.57,439.62 L551.30,438.85 L551.13,437.95 L551.02,437.04 L550.99,436.14 L551.02,435.23 L551.13,434.33 L551.30,433.43 L551.57,432.52 L551.95,431.62 L552.39,430.71 L552.87,429.81 L553.80,429.20 Q553.80,428.00 555.00,428.00 Z" fill="rgba(20,135,130,0.34)"/>
<line x1="560.30" y1="428.00" x2="559.20" y2="428.00" stroke="#111" stroke-width="1"/>
<line x1="560.30" y1="434.20" x2="562.40" y2="434.20" stroke="#111" stroke-width="1"/>
<line x1="560.30" y1="438.90" x2="559.20" y2="438.90" stroke="#111" stroke-width="1"/>
<line x1="560.30" y1="443.50" x2="562.40" y2="443.50" stroke="#111" stroke-width="1"/>
<circle cx="557.00" cy="428.00" r="2.9" fill="rgba(30,170,160,0.55)"/>
<text x="557.00" y="429.60" font-size="4.4" fill="#2a2a2a" text-anchor="middle">b</text>
<circle cx="565.00" cy="434.20" r="2.9" fill="rgba(30,170,160,0.55)"/>
<text x="565.00" y="435.80" font-size="4.4" fill="#2a2a2a" text-anchor="middle">c</text>
<circle cx="557.00" cy="438.90" r="2.9" fill="rgba(30,170,160,0.55)"/>
<text x="557.00" y="440.50" font-size="4.4" fill="#2a2a2a" text-anchor="middle">a</text>
<circle cx="564.40" cy="443.50" r="2.9" fill="rgba(30,170,160,0.55)"/>
<text x="564.40" y="445.10" font-size="4.4" fill="#2a2a2a" text-anchor="middle">d</text>
<rect x="584.50" y="424.97" width="23.8" height="3.6" fill="#000"/>
<line x1="596.40" y1="422.60" x2="596.40" y2="435.80" stroke="#111" stroke-width="1.05" stroke-dasharray="3.8,3.2"/>
<path d="M588.30,420.80 L604.50,420.80 Q605.70,420.80 605.70,422.00 L605.73,422.30 L605.79,423.80 L605.84,425.30 L605.87,426.80 L605.83,428.30 L605.70,429.80 L605.45,430.80 L605.10,431.80 L604.69,432.80 L604.25,433.80 L603.40,434.60 Q603.40,435.80 602.20,435.80 L590.60,435.80 Q589.40,435.80 589.40,434.60 L588.55,433.80 L588.11,432.80 L587.70,431.80 L587.35,430.80 L587.10,429.80 L586.97,428.30 L586.93,426.80 L586.96,425.30 L587.01,423.80 L587.07,422.30 L587.10,422.00 Q587.10,420.80 588.30,420.80 Z" fill="rgba(240,205,40,0.30)"/>
<line x1="595.90" y1="420.80" x2="594.80" y2="420.80" stroke="#111" stroke-width="1"/>
<line x1="595.90" y1="423.90" x2="598.00" y2="423.90" stroke="#111" stroke-width="1"/>
<line x1="595.90" y1="426.50" x2="594.80" y2="426.50" stroke="#111" stroke-width="1"/>
<line x1="595.90" y1="435.80" x2="598.00" y2="435.80" stroke="#111" stroke-width="1"/>
<circle cx="592.40" cy="420.80" r="2.9" fill="rgba(245,215,70,0.40)"/>
<text x="592.40" y="422.40" font-size="4.4" fill="#2a2a2a" text-anchor="middle">b</text>
<circle cx="600.60" cy="423.90" r="2.9" fill="rgba(245,215,70,0.40)"/>
<text x="600.60" y="425.50" font-size="4.4" fill="#2a2a2a" text-anchor="middle">c</text>
<circle cx="592.40" cy="426.50" r="2.9" fill="rgba(245,215,70,0.40)"/>
<text x="592.40" y="428.10" font-size="4.4" fill="#2a2a2a" text-anchor="middle">a</text>
<circle cx="600.40" cy="435.80" r="2.9" fill="rgba(245,215,70,0.40)"/>
<text x="600.40" y="437.40" font-size="4.4" fill="#2a2a2a" text-anchor="middle">d</text>
<text x="71.50" y="269.2" font-size="9.3" font-weight="bold" fill="#000" stroke="#000" stroke-width="0.2" text-anchor="middle">−9.5</text>
<text x="107.10" y="269.2" font-size="9.3" font-weight="bold" fill="#000" stroke="#000" stroke-width="0.2" text-anchor="middle">−13.4</text>
<text x="89.70" y="284.40" font-size="11.4" font-weight="bold" stroke="#000" stroke-width="0.25" fill="#000" text-anchor="middle">Maize</text>
<text x="153.15" y="269.2" font-size="9.3" font-weight="bold" fill="#000" stroke="#000" stroke-width="0.2" text-anchor="middle">+10.3</text>
<text x="188.75" y="269.2" font-size="9.3" font-weight="bold" fill="#000" stroke="#000" stroke-width="0.2" text-anchor="middle">+13</text>
<text x="171.35" y="284.40" font-size="11.4" textLength="63.1" lengthAdjust="spacingAndGlyphs" fill="#222" text-anchor="middle">Finger millet</text>
<text x="234.80" y="269.2" font-size="9.3" font-weight="bold" fill="#000" stroke="#000" stroke-width="0.2" text-anchor="middle">+4.8</text>
<text x="270.40" y="269.2" font-size="9.3" font-weight="bold" fill="#000" stroke="#000" stroke-width="0.2" text-anchor="middle">+4.9</text>
<text x="253.00" y="284.40" font-size="11.4" fill="#222" text-anchor="middle">Fonio</text>
<text x="316.45" y="269.2" font-size="9.3" font-weight="bold" fill="#000" stroke="#000" stroke-width="0.2" text-anchor="middle">+3.9</text>
<text x="352.05" y="269.2" font-size="9.3" font-weight="bold" fill="#000" stroke="#000" stroke-width="0.2" text-anchor="middle">+3.7</text>
<text x="334.65" y="284.40" font-size="11.4" fill="#222" text-anchor="middle">Pearl millet</text>
<text x="398.10" y="269.2" font-size="9.3" font-weight="bold" fill="#000" stroke="#000" stroke-width="0.2" text-anchor="middle">−1.3</text>
<text x="433.70" y="269.2" font-size="9.3" font-weight="bold" fill="#000" stroke="#000" stroke-width="0.2" text-anchor="middle">−3.1</text>
<text x="416.30" y="284.40" font-size="11.4" textLength="46.4" lengthAdjust="spacingAndGlyphs" fill="#222" text-anchor="middle">Sorghum</text>
<text x="479.75" y="269.2" font-size="9.3" font-weight="bold" fill="#000" stroke="#000" stroke-width="0.2" text-anchor="middle">+11.4</text>
<text x="515.35" y="269.2" font-size="9.3" font-weight="bold" fill="#000" stroke="#000" stroke-width="0.2" text-anchor="middle">+15.5</text>
<text x="497.95" y="284.40" font-size="11.4" fill="#222" text-anchor="middle">Teff</text>
<text x="70.30" y="578.3" font-size="9.3" font-weight="bold" fill="#000" stroke="#000" stroke-width="0.2" text-anchor="middle">−5.3</text>
<text x="105.90" y="578.3" font-size="9.3" font-weight="bold" fill="#000" stroke="#000" stroke-width="0.2" text-anchor="middle">−8.1</text>
<text x="89.70" y="593.40" font-size="11.4" font-weight="bold" stroke="#000" stroke-width="0.25" fill="#000" text-anchor="middle">Soybean</text>
<text x="151.95" y="578.3" font-size="9.3" font-weight="bold" fill="#000" stroke="#000" stroke-width="0.2" text-anchor="middle">−12.7</text>
<text x="187.55" y="578.3" font-size="9.3" font-weight="bold" fill="#000" stroke="#000" stroke-width="0.2" text-anchor="middle">−15.7</text>
<text x="171.35" y="593.40" font-size="11.4" textLength="44.1" lengthAdjust="spacingAndGlyphs" fill="#222" text-anchor="middle">Bambara</text>
<text x="171.35" y="605.40" font-size="11.4" textLength="53.3" lengthAdjust="spacingAndGlyphs" fill="#222" text-anchor="middle">groundnut</text>
<text x="233.60" y="578.3" font-size="9.3" font-weight="bold" fill="#000" stroke="#000" stroke-width="0.2" text-anchor="middle">−8.1</text>
<text x="269.20" y="578.3" font-size="9.3" font-weight="bold" fill="#000" stroke="#000" stroke-width="0.2" text-anchor="middle">−8.9</text>
<text x="253.00" y="593.40" font-size="11.4" fill="#222" text-anchor="middle">Cowpea</text>
<text x="315.25" y="578.3" font-size="9.3" font-weight="bold" fill="#000" stroke="#000" stroke-width="0.2" text-anchor="middle">+9</text>
<text x="350.85" y="578.3" font-size="9.3" font-weight="bold" fill="#000" stroke="#000" stroke-width="0.2" text-anchor="middle">+16.1</text>
<text x="334.65" y="593.40" font-size="11.4" textLength="48.9" lengthAdjust="spacingAndGlyphs" fill="#222" text-anchor="middle">Grass pea</text>
<text x="396.90" y="578.3" font-size="9.3" font-weight="bold" fill="#000" stroke="#000" stroke-width="0.2" text-anchor="middle">−13.3</text>
<text x="432.50" y="578.3" font-size="9.3" font-weight="bold" fill="#000" stroke="#000" stroke-width="0.2" text-anchor="middle">−18.5</text>
<text x="416.30" y="593.40" font-size="11.4" fill="#222" text-anchor="middle">Lablab</text>
<text x="478.55" y="578.3" font-size="9.3" font-weight="bold" fill="#000" stroke="#000" stroke-width="0.2" text-anchor="middle">−15.7</text>
<text x="514.15" y="578.3" font-size="9.3" font-weight="bold" fill="#000" stroke="#000" stroke-width="0.2" text-anchor="middle">−19.6</text>
<text x="497.95" y="593.40" font-size="11.4" fill="#222" text-anchor="middle">Mung bean</text>
<text x="560.20" y="578.3" font-size="9.3" font-weight="bold" fill="#000" stroke="#000" stroke-width="0.2" text-anchor="middle">+4.3</text>
<text x="595.80" y="578.3" font-size="9.3" font-weight="bold" fill="#000" stroke="#000" stroke-width="0.2" text-anchor="middle">+8.3</text>
<text x="579.60" y="593.40" font-size="11.4" fill="#222" text-anchor="middle">Pigeon pea</text>
<rect x="57.2" y="624.1" width="10.9" height="11" fill="#80c8c2"/>
<rect x="57.2" y="640.9" width="10.9" height="11" fill="#f6e594"/>
<text x="73.8" y="633.5" font-size="10.4" fill="#222">SSP1-2.6</text>
<text x="73.8" y="650.4" font-size="10.4" fill="#222">SSP3-7.0</text>
<line x1="141" y1="629.5" x2="146.5" y2="629.5" stroke="#111" stroke-width="1.5"/>
<line x1="150" y1="629.5" x2="155.6" y2="629.5" stroke="#111" stroke-width="1.5"/>
<text x="160.6" y="634.4" font-size="11" fill="#222" textLength="105.4" lengthAdjust="spacingAndGlyphs">Climate model range</text>
<text x="299.3" y="632.90" font-size="10.9" fill="#222" textLength="79.4" lengthAdjust="spacingAndGlyphs">Climate models</text>
<text x="299.3" y="645.75" font-size="10.9" fill="#222" textLength="68.4" lengthAdjust="spacingAndGlyphs">a GFDL-ESM4</text>
<text x="299.3" y="658.60" font-size="10.9" fill="#222" textLength="81.4" lengthAdjust="spacingAndGlyphs">b IPSL-CM6A-LR</text>
<text x="299.3" y="671.45" font-size="10.9" fill="#222" textLength="84.2" lengthAdjust="spacingAndGlyphs">c MPI-ESM1-2-HR</text>
<text x="299.3" y="684.30" font-size="10.9" fill="#222" textLength="70.3" lengthAdjust="spacingAndGlyphs">c MRI-ESM2-0</text>
</svg></body></html>
